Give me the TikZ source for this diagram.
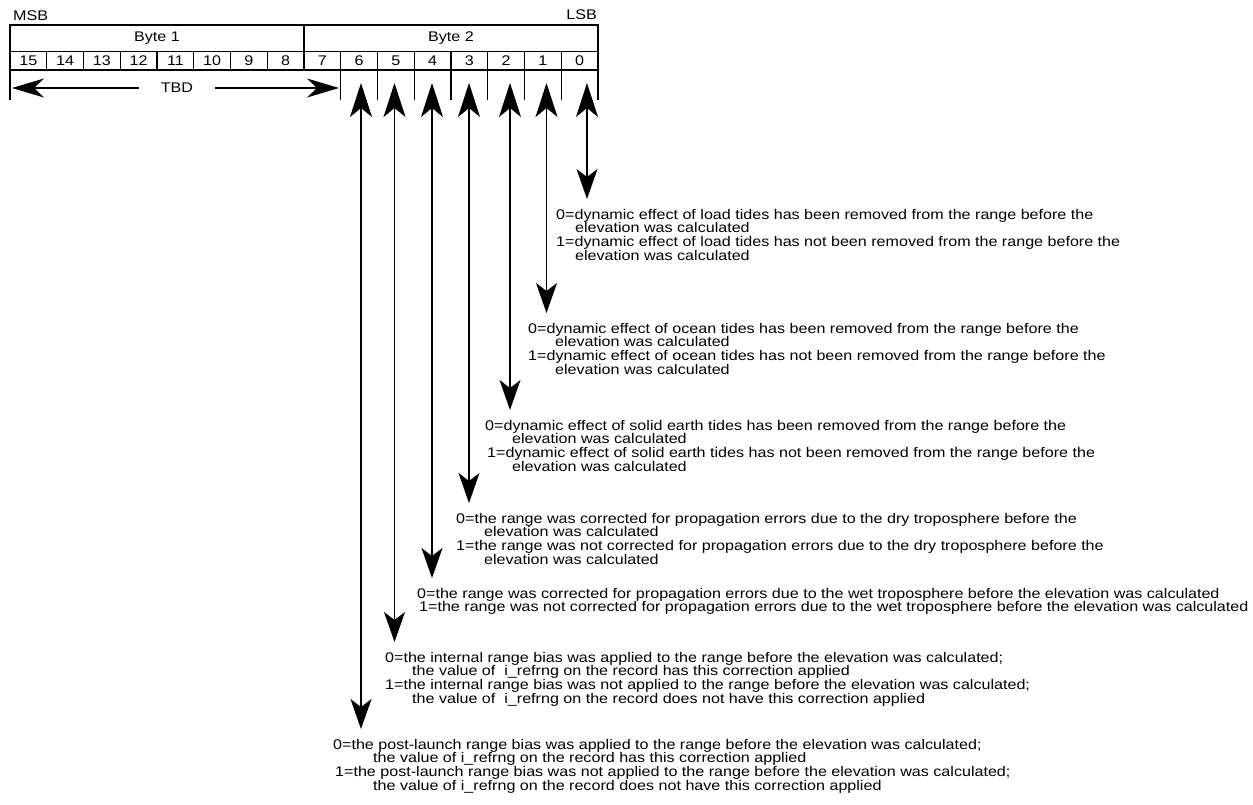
\documentclass[tikz,border=0pt]{standalone}
\usepackage{fontspec}
\setmainfont{Liberation Sans}[FakeStretch=1.15]
\usetikzlibrary{arrows.meta}
\begin{document}
\begin{tikzpicture}[x=1pt,y=-1pt,
  rule/.style={line width=1.2pt},
  lbl/.style={inner sep=0pt, font=\fontsize{14}{13.6}\selectfont},
  desc/.style={anchor=north west, inner sep=0pt, align=left, font=\fontsize{14}{13.6}\selectfont},
  bitarrow/.style={line width=1.2pt,
    {Stealth[length=34pt,width=22pt,inset=9pt]}-{Stealth[length=30pt,width=21pt,inset=8pt]}},
  tbdarrow/.style={line width=1.2pt, -{Stealth[length=32pt,width=19pt,inset=10pt]}}]
\useasboundingbox (0,0) rectangle (1253,804);

% register frame: byte row and bit row
\draw[rule] (10,25) rectangle (598,70);
\draw[rule] (10,51.5) -- (598,51.5);
\draw[rule] (304,25) -- (304,51.5);
\foreach \i in {1,...,15}{
  \draw[rule] ({10+\i*36.75},51.5) -- ({10+\i*36.75},70);
}
% ticks hanging below the bit row
\foreach \i in {0,9,10,11,12,13,14,15,16}{
  \draw[rule] ({10+\i*36.75},70) -- ({10+\i*36.75},100);
}

% labels
\node[lbl, anchor=west] (msb) at (13,16) {MSB};
\node[lbl, anchor=east] (lsb) at (597,15) {LSB};
\node[lbl] (byte1) at (157,38) {Byte 1};
\node[lbl] (byte2) at (451,38) {Byte 2};
\foreach \i in {0,...,15}{
  \pgfmathtruncatemacro{\bit}{15-\i}
  \node[lbl] (b\bit) at ({10+(\i+0.5)*36.75},61) {\bit};
}

% TBD span over bits 15..7
\node[lbl, inner xsep=22pt] (tbd) at (177,88) {TBD};
\coordinate (tbdL) at (12,88);
\coordinate (tbdR) at (339,88);
\draw[tbdarrow] (tbd) -- (tbdL);
\draw[tbdarrow] (tbd) -- (tbdR);

% descriptions
\node[desc] (d0) at (556,209) {0=dynamic effect of load tides has been removed from the range before the\\
\hspace*{19pt}elevation was calculated\\
1=dynamic effect of load tides has not been removed from the range before the\\
\hspace*{19pt}elevation was calculated};

\node[desc] (d1) at (528,323) {0=dynamic effect of ocean tides has been removed from the range before the\\
\hspace*{27pt}elevation was calculated\\
1=dynamic effect of ocean tides has not been removed from the range before the\\
\hspace*{27pt}elevation was calculated};

\node[desc] (d2) at (485,420) {0=dynamic effect of solid earth tides has been removed from the range before the\\
\hspace*{27pt}elevation was calculated\\
\hspace*{2pt}1=dynamic effect of solid earth tides has not been removed from the range before the\\
\hspace*{27pt}elevation was calculated};

\node[desc] (d3) at (456,513) {0=the range was corrected for propagation errors due to the dry troposphere before the\\
\hspace*{28pt}elevation was calculated\\
1=the range was not corrected for propagation errors due to the dry troposphere before the\\
\hspace*{28pt}elevation was calculated};

\node[desc] (d4) at (417,588) {0=the range was corrected for propagation errors due to the wet troposphere before the elevation was calculated\\
\hspace*{2pt}1=the range was not corrected for propagation errors due to the wet troposphere before the elevation was calculated};

\node[desc] (d5) at (385,652) {0=the internal range bias was applied to the range before the elevation was calculated;\\
\hspace*{27pt}the value of \ i\_refrng on the record has this correction applied\\
1=the internal range bias was not applied to the range before the elevation was calculated;\\
\hspace*{27pt}the value of \ i\_refrng on the record does not have this correction applied};

\node[desc] (d6) at (333,739) {0=the post-launch range bias was applied to the range before the elevation was calculated;\\
\hspace*{40pt}the value of i\_refrng on the record has this correction applied\\
\hspace*{2pt}1=the post-launch range bias was not applied to the range before the elevation was calculated;\\
\hspace*{40pt}the value of i\_refrng on the record does not have this correction applied};

% bit pointers: from each bit cell down to its description
\foreach \bit/\x/\y in {0/587/199, 1/546.5/313, 2/510/410, 3/469/503, 4/432/578, 5/394.5/642, 6/361/729}{
  \coordinate (up\bit) at (\x,83);
  \coordinate (dn\bit) at (\x,\y);
  \draw[bitarrow] (up\bit) -- (dn\bit);
}
\end{tikzpicture}
\end{document}
